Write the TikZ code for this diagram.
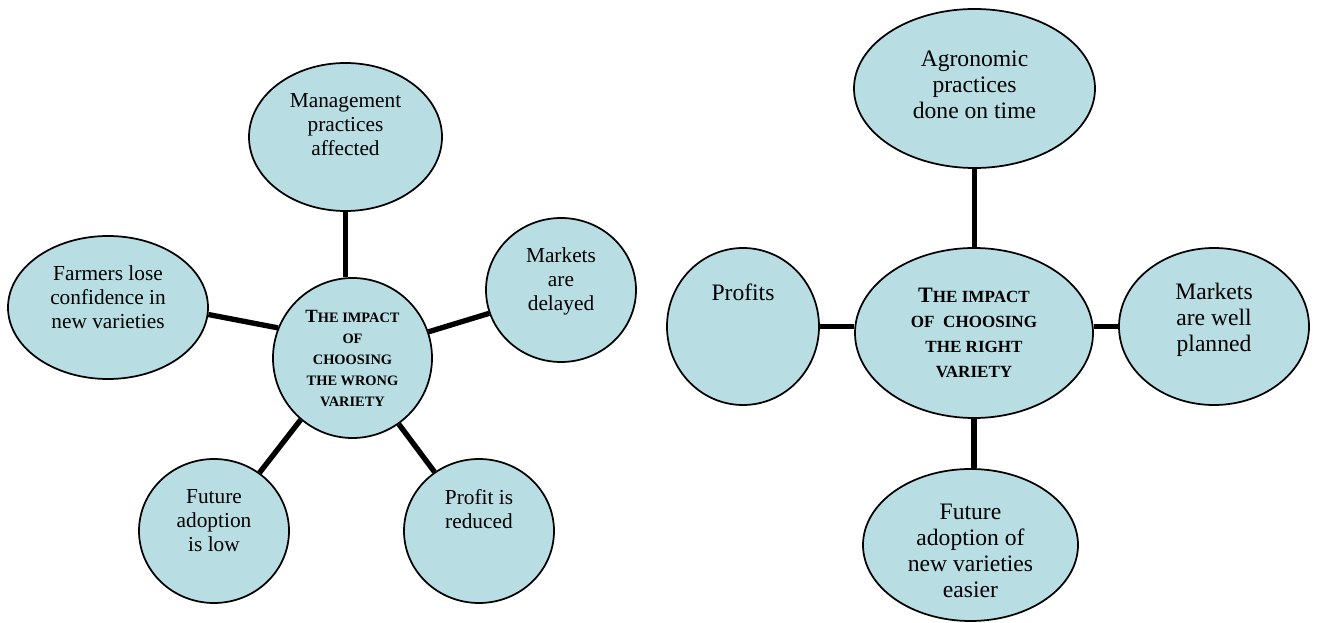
\documentclass[tikz,border=0pt]{standalone}
\usepackage{fontspec}
\setmainfont{Liberation Serif}
\usetikzlibrary{shapes.geometric}

\definecolor{bubblefill}{RGB}{184,222,228}
\newcommand{\bigT}[1]{{\fontsize{#1}{#1}\selectfont T}}

\begin{document}
\begin{tikzpicture}[
    x=0.75pt, y=-0.75pt,
    bubble/.style={ellipse, draw, line width=1.3pt, fill=bubblefill, inner sep=0pt},
    note/.style={align=center, inner sep=0pt, anchor=north, yshift=-23pt, font=\fontsize{16}{18}\selectfont},
    bignote/.style={note, yshift=-4pt, font=\fontsize{17.7}{19.5}\selectfont},
    hubL/.style={bubble, align=center, font=\bfseries\fontsize{10.8}{15.75}\selectfont},
    hubR/.style={bubble, align=center, font=\bfseries\fontsize{12.8}{18.75}\selectfont},
    link/.style={line width=4pt}
  ]
    \useasboundingbox (0,0) rectangle (1318,623);

    % wrong variety
    \node[hubL, minimum width=119.25pt, minimum height=120pt] (wrong) at (352.5,358)
      {\bigT{14}HE IMPACT\\OF\\CHOOSING\\THE WRONG\\VARIETY};
    \node[bubble, minimum width=144.75pt, minimum height=111pt,
      label={[note]north:{Management\\practices\\affected}}] (mgmt) at (345.5,137) {};
    \node[bubble, minimum width=150pt, minimum height=107.25pt,
      label={[note]north:{Farmers lose\\confidence in\\new varieties}}] (farmers) at (108,307.5) {};
    \node[bubble, minimum width=112.5pt, minimum height=108pt,
      label={[note]north:{Markets\\are\\delayed}}] (delayed) at (561,290) {};
    \node[bubble, minimum width=112.5pt, minimum height=108pt,
      label={[note]north:{Future\\adoption\\is low}}] (lowadopt) at (214,531) {};
    \node[bubble, minimum width=112.5pt, minimum height=108pt,
      label={[note]north:{Profit is\\reduced}}] (reduced) at (479,531) {};

    \draw[link] (mgmt.south) -- (mgmt.south |- wrong.north);
    \draw[link] (farmers.-4) -- (wrong.158);
    \draw[link] (wrong.19) -- (delayed.198);
    \draw[link] (wrong.-55) -- (reduced.127);
    \draw[link] (wrong.-130) -- (lowadopt.52);

    % right variety
    \node[hubR, minimum width=178.5pt, minimum height=127.5pt] (right) at (974,333)
      {\bigT{16.5}HE IMPACT\\OF\ \ CHOOSING\\THE RIGHT\\VARIETY};
    \node[bubble, minimum width=180.75pt, minimum height=119.25pt,
      label={[bignote, yshift=-4.5pt]north:{Agronomic\\practices\\done on time}}] (agro) at (974.5,88.5) {};
    \node[bubble, minimum width=114pt, minimum height=117.75pt,
      label={[bignote]north:{Profits}}] (profits) at (743,326.5) {};
    \node[bubble, minimum width=142.5pt, minimum height=117.75pt,
      label={[bignote]north:{Markets\\are well\\planned}}] (planned) at (1214,326.5) {};
    \node[bubble, minimum width=161.25pt, minimum height=114pt,
      label={[bignote]north:{Future\\adoption of\\new varieties\\easier}}] (easier) at (970.5,545) {};

    \draw[link] (agro.south) -- (agro.south |- right.north);
    \draw[link] (right.south) -- (right.south |- easier.north);
    \draw[link] (profits.east) -- (profits.east -| right.west);
    \draw[link] (planned.west) -- (planned.west -| right.east);
\end{tikzpicture}
\end{document}
